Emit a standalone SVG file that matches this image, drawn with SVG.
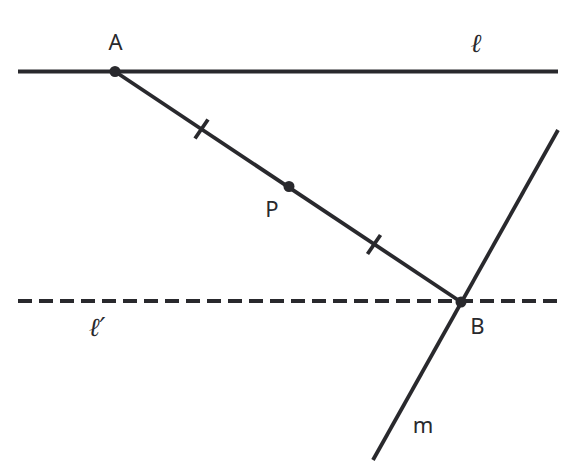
<svg xmlns="http://www.w3.org/2000/svg" width="576" height="475" viewBox="0 0 576 475">
<style>
.ln{stroke:#29292d;stroke-width:3.8;fill:none}
.dash{stroke-dasharray:14 7}
.pt{fill:#29292d}
.lb{font-family:"Noto Sans","DejaVu Sans",sans-serif;font-size:22px;fill:#29292d}
.sc{font-family:"DejaVu Serif","Liberation Serif",serif;font-style:italic;font-size:26px;fill:#29292d}
</style>
<rect width="576" height="475" fill="#fff"/>
<g id="connectors">
<line class="ln" x1="18" y1="71.5" x2="558" y2="71.5"/>
<line class="ln dash" x1="18" y1="301" x2="558" y2="301"/>
<line class="ln" x1="115" y1="71.5" x2="461" y2="302"/>
<line class="ln" x1="558" y1="130" x2="373" y2="460"/>
<line class="ln" x1="195" y1="138.5" x2="208" y2="119.5"/>
<line class="ln" x1="367.5" y1="254" x2="380.5" y2="235"/>
</g>
<g id="A"><circle class="pt" cx="115" cy="71.5" r="5.5"/><text class="lb" x="115.5" y="50" text-anchor="middle">A</text></g>
<g id="P"><circle class="pt" cx="289" cy="186.5" r="5.5"/><text class="lb" x="272" y="217" text-anchor="middle">P</text></g>
<g id="B"><circle class="pt" cx="461" cy="302" r="5.5"/><text class="lb" x="477.5" y="334" text-anchor="middle">B</text></g>
<g id="l"><text class="sc" x="476" y="52" text-anchor="middle">ℓ</text></g>
<g id="lprime"><text class="sc" x="97" y="336" text-anchor="middle">ℓ′</text></g>
<g id="m"><text class="lb" x="423" y="433" text-anchor="middle">m</text></g>
</svg>
